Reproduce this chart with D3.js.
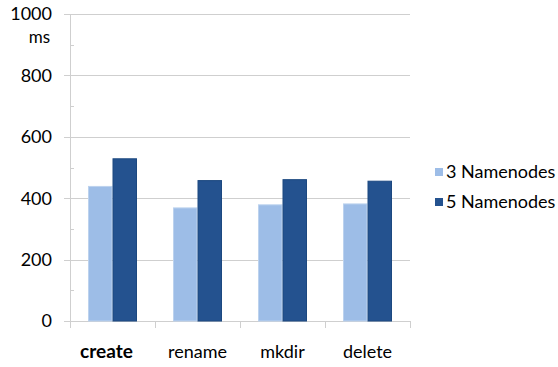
<!DOCTYPE html>
<html>
<head>
<meta charset="utf-8">
<script src="https://cdn.jsdelivr.net/npm/d3@7/dist/d3.min.js"></script>
<style>
  html, body { margin: 0; padding: 0; background: #fff; }
  svg { display: block; }
  text { font-family: Lato, "Open Sans", sans-serif; fill: #000; }
</style>
</head>
<body>
<svg id="chart" width="558" height="367"></svg>
<script>
// Operation latency by namenode count
const categories = ["create", "rename", "mkdir", "delete"];
const seriesNames = ["3 Namenodes", "5 Namenodes"];
const threeNamenodes = [440, 370, 380, 383];
const fiveNamenodes = [530, 459, 462, 457];
const yTicks = [0, 200, 400, 600, 800, 1000];
const yMinorTicks = [100, 300, 500, 700, 900];
const unitLabel = "ms";

const colors = ["#9dbde7", "#24528f"];
const strokes = ["#bcd2ee", "#1c4880"];

const svg = d3.select("#chart");
const plot = { left: 70, right: 410, top: 14, bottom: 321 };

const x = d3.scaleBand().domain(categories).range([plot.left, plot.right]).paddingInner(0).paddingOuter(0);
const inner = d3.scaleBand().domain([0, 1]).range([18, x.bandwidth() - 18]).padding(0);
const y = d3.scaleLinear().domain([0, 1000]).range([plot.bottom, plot.top]);

// horizontal gridlines (extend slightly left as major ticks)
svg.append("g").selectAll("line").data(yTicks).join("line")
  .attr("x1", plot.left - 6).attr("x2", plot.right)
  .attr("y1", d => Math.round(y(d)) + 0.5).attr("y2", d => Math.round(y(d)) + 0.5)
  .attr("stroke", "#cfcfcf").attr("stroke-width", 1);

// minor ticks on the value axis
svg.append("g").selectAll("line").data(yMinorTicks).join("line")
  .attr("x1", plot.left).attr("x2", plot.left + 4)
  .attr("y1", d => Math.round(y(d)) + 0.5).attr("y2", d => Math.round(y(d)) + 0.5)
  .attr("stroke", "#cfcfcf");

// value axis line
svg.append("line")
  .attr("x1", plot.left + 0.5).attr("x2", plot.left + 0.5)
  .attr("y1", plot.top).attr("y2", plot.bottom + 7)
  .attr("stroke", "#cfcfcf");

// category tick marks
const catEdges = categories.map(c => x(c)).concat([plot.right]);
svg.append("g").selectAll("line").data(catEdges.slice(1)).join("line")
  .attr("x1", d => Math.round(d) + 0.5).attr("x2", d => Math.round(d) + 0.5)
  .attr("y1", plot.bottom).attr("y2", plot.bottom + 7)
  .attr("stroke", "#cfcfcf");

// y tick labels
svg.append("g").selectAll("text").data(yTicks).join("text")
  .attr("x", 52).attr("y", d => y(d))
  .attr("dy", "0.35em")
  .attr("text-anchor", "end")
  .style("font-size", "18px")
  .text(d => d);

// unit under the top tick label
svg.append("text")
  .attr("x", 50).attr("y", 43)
  .attr("text-anchor", "end")
  .style("font-size", "17px")
  .text(unitLabel);

// bars
const series = [threeNamenodes, fiveNamenodes];
series.forEach((vals, si) => {
  svg.append("g").selectAll("rect").data(categories).join("rect")
    .attr("x", c => x(c) + inner(si) + 0.5)
    .attr("y", (c, i) => y(vals[i]) + 0.5)
    .attr("width", inner.bandwidth() - 1)
    .attr("height", (c, i) => y(0) - y(vals[i]) - 0.5)
    .attr("fill", colors[si])
    .attr("stroke", strokes[si])
    .attr("stroke-width", 1);
});

// category labels (the highlighted one is bold and nudged left)
svg.append("g").selectAll("text").data(categories).join("text")
  .attr("x", c => x(c) + x.bandwidth() / 2)
  .attr("dx", (c, i) => i === 0 ? -6 : 0)
  .attr("y", 358)
  .attr("text-anchor", "middle")
  .style("font-size", (c, i) => i === 0 ? "19px" : "18px")
  .style("font-weight", (c, i) => i === 0 ? "bold" : "normal")
  .text(c => c);

// legend
const legend = svg.append("g");
seriesNames.forEach((name, i) => {
  const ly = 172 + i * 30;
  legend.append("rect")
    .attr("x", 435).attr("y", ly - 4).attr("width", 8).attr("height", 8)
    .attr("fill", colors[i]);
  legend.append("text")
    .attr("x", 446).attr("y", ly)
    .attr("dy", "0.35em")
    .style("font-size", "18px")
    .text(name);
});
</script>
</body>
</html>
